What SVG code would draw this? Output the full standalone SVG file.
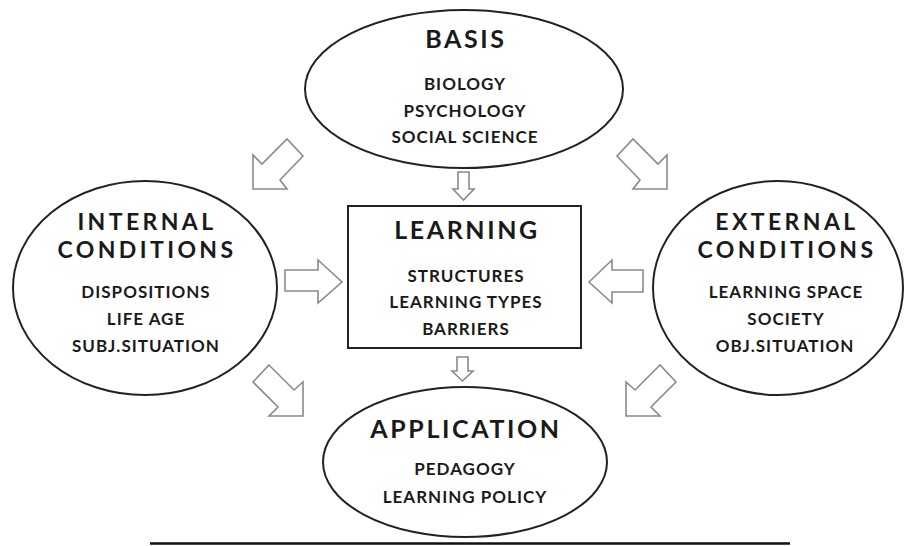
<svg xmlns="http://www.w3.org/2000/svg" width="906" height="546" viewBox="0 0 906 546">
<style>
.shape{fill:#fff;stroke:#222;stroke-width:2}
.arr{fill:#fff;stroke:#8a8a8a;stroke-width:1.6;stroke-linejoin:miter}
text{font-family:Lato,"Open Sans","Liberation Sans",sans-serif;font-weight:bold;fill:#1a1a1a;text-anchor:middle}
.t{font-size:25px;letter-spacing:2.6px}
.t2{font-size:23px;letter-spacing:3.4px}
.s{font-size:17px;letter-spacing:1px}
</style>
<rect width="906" height="546" fill="#fff"/>
<g id="connectors">
<polygon class="arr" points="253,189 253,155 262,164 287,139 303,156 280,180 287,189"/>
<polygon class="arr" points="667,189 667,155 658,164 633,139 617,156 640,180 633,189"/>
<polygon class="arr" points="269,365 294,390 303,382 303,416 269,416 278,407 253,382"/>
<polygon class="arr" points="660,365 635,390 626,382 626,416 660,416 651,407 676,382"/>
<polygon class="arr" points="285,270 318,270 318,260 342,282 318,303 318,291 285,291"/>
<polygon class="arr" points="589,282 612,260 612,270 643,270 643,292 612,292 612,303"/>
<polygon class="arr" points="458,172 469,172 469,189 474,189 463.5,200 453,189 458,189"/>
<polygon class="arr" points="457,357 468,357 468,371 473,371 462.5,381 452,371 457,371"/>
</g>
<g id="basis">
<ellipse class="shape" cx="464" cy="89" rx="159" ry="79"/>
<text class="t" x="466" y="48">BASIS</text>
<text class="s" x="465" y="90">BIOLOGY</text>
<text class="s" x="465" y="117">PSYCHOLOGY</text>
<text class="s" x="465" y="143">SOCIAL SCIENCE</text>
</g>
<g id="internal">
<ellipse class="shape" cx="145" cy="288" rx="132" ry="107"/>
<text class="t2" x="147" y="230">INTERNAL</text>
<text class="t2" x="147" y="258">CONDITIONS</text>
<text class="s" x="146" y="298">DISPOSITIONS</text>
<text class="s" x="146" y="325">LIFE AGE</text>
<text class="s" x="146" y="352">SUBJ.SITUATION</text>
</g>
<g id="external">
<ellipse class="shape" cx="778" cy="288" rx="125" ry="107"/>
<text class="t2" x="787" y="230">EXTERNAL</text>
<text class="t2" x="787" y="258">CONDITIONS</text>
<text class="s" x="786" y="298">LEARNING SPACE</text>
<text class="s" x="786" y="325">SOCIETY</text>
<text class="s" x="785" y="352">OBJ.SITUATION</text>
</g>
<g id="learning">
<rect class="shape" x="348" y="206" width="233" height="142" stroke-width="2.5"/>
<text class="t" x="467" y="239">LEARNING</text>
<text class="s" x="466" y="282">STRUCTURES</text>
<text class="s" x="466" y="308">LEARNING TYPES</text>
<text class="s" x="466" y="335">BARRIERS</text>
</g>
<g id="application">
<ellipse class="shape" cx="465" cy="462" rx="142" ry="75"/>
<text class="t" x="466" y="438">APPLICATION</text>
<text class="s" x="465" y="475">PEDAGOGY</text>
<text class="s" x="465" y="503">LEARNING POLICY</text>
</g>
<line x1="150" y1="543.5" x2="790" y2="543.5" stroke="#111" stroke-width="2.5"/>
</svg>
